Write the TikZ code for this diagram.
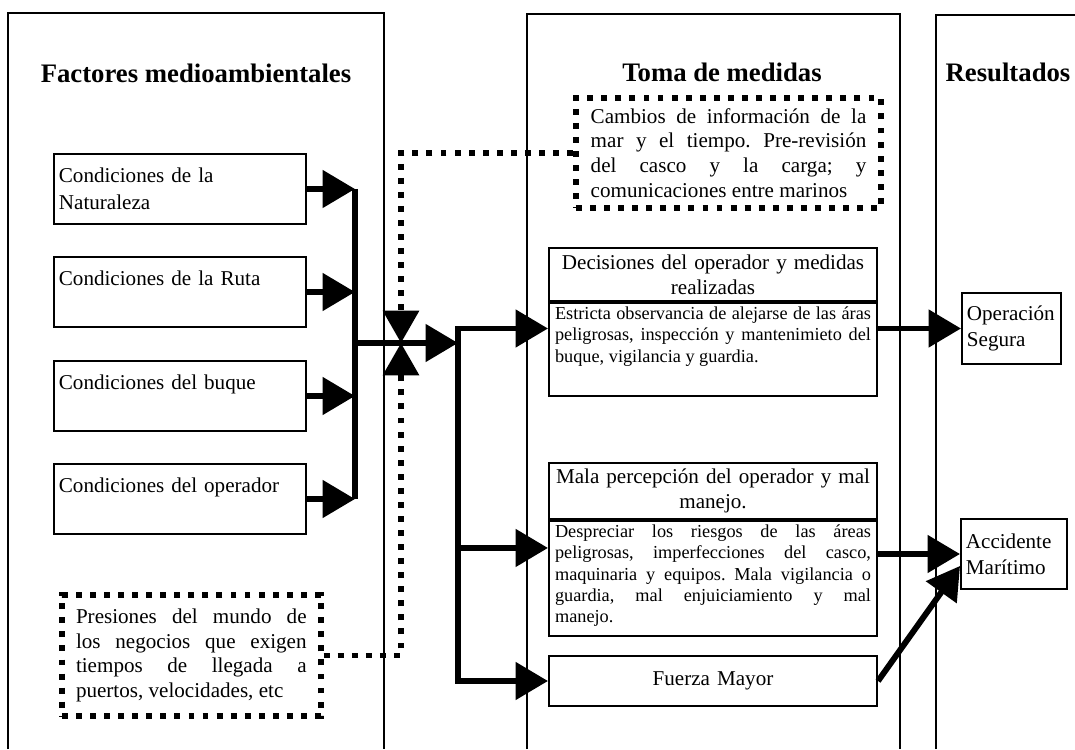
\documentclass[tikz,border=0pt]{standalone}
\usepackage{fontspec}
\setmainfont{Liberation Serif}
\usetikzlibrary{arrows.meta}
\hyphenpenalty=10000
\exhyphenpenalty=10000
\tolerance=10000
\frenchspacing

\newcommand{\bodypar}[2]{\parbox[c][#1][t]{224.7pt}{\fontsize{13}{15}\selectfont #2}}

\tikzset{
  panel/.style={line width=1.2pt},
  paneltitle/.style={font=\fontsize{19}{23}\selectfont\bfseries, anchor=base, inner sep=0pt},
  condbox/.style={draw, line width=1.4pt, fill=white, anchor=north west, inner xsep=3.5pt, inner ysep=0pt,
    text width=172pt, minimum height=1.75cm, align=left, font=\fontsize{15}{19}\selectfont},
  dotbox/.style={draw, line width=4.2pt, dash pattern=on 4.2pt off 5.8pt, anchor=north west, inner ysep=0pt,
    align=justify, font=\fontsize{15}{17.6}\selectfont},
  headbox/.style={draw, line width=1.4pt, anchor=north west, inner xsep=4.3pt, inner ysep=0pt,
    text width=224.7pt, align=center, font=\fontsize{15}{17.6}\selectfont},
  bodybox/.style={draw, line width=1.4pt, anchor=north west, inner xsep=4.3pt, inner ysep=3pt},
  endbox/.style={draw, line width=1.4pt, anchor=north west, inner xsep=3.5pt, inner ysep=0pt,
    align=left, font=\fontsize{15}{18.5}\selectfont},
  pipe/.style={line width=4.2pt},
  flow/.style={pipe, -{Triangle[length=23pt,width=26pt]}},
  dots/.style={line width=4.2pt, dash pattern=on 4.2pt off 5.8pt},
  dotflow/.style={dots, -{Triangle[length=23pt,width=25pt]}}
}

\begin{document}
\begin{tikzpicture}[x=0.025cm, y=-0.025cm]
		%%%%% START %%%%%
		\useasboundingbox (0,0) rectangle (1075,749);
		
		% columns
		\draw[panel] (8,749) -- (8,13) -- (384,13) -- (384,749);
		\draw[panel] (527,749) -- (527,14) -- (900,14) -- (900,749);
		\draw[panel] (936,749) -- (936,15) -- (1075,15);
		
		\node[paneltitle] (tfac) at (196,82) {Factores medioambientales};
		\node[paneltitle] (ttoma) at (722,81) {Toma de medidas};
		\node[paneltitle] (tres) at (1008,81) {Resultados};
		
		% factores
		\node[condbox] (nat) at (53,153) {Condiciones de la\\Naturaleza};
		\node[condbox] (ruta) at (53,256) {Condiciones de la Ruta\\ \mbox{}};
		\node[condbox] (buque) at (53,360) {Condiciones del buque\\ \mbox{}};
		\node[condbox] (oper) at (53,463) {Condiciones del operador\\ \mbox{}};
		
		\node[dotbox, text width=164pt, inner xsep=10pt, minimum height=3.025cm] (pres) at (59,592)
			{Presiones del mundo de\linebreak los negocios que exigen\linebreak tiempos de llegada a\linebreak puertos, velocidades, etc};
		
		% medidas
		\node[dotbox, text width=196pt, inner xsep=10.5pt, minimum height=2.75cm] (camb) at (573,95)
			{Cambios de información de la\linebreak mar y el tiempo. Pre-revisión\linebreak del casco y la carga; y\linebreak comunicaciones entre marinos};
		
		\node[headbox, minimum height=1.325cm] (dech) at (548,247) {Decisiones del operador y medidas\\realizadas};
		\node[bodybox] (decb) at (dech.south west) {\bodypar{60.15pt}{Estricta observancia de alejarse de las áras\linebreak peligrosas, inspección y mantenimieto del\linebreak buque, vigilancia y guardia.}};
		
		\node[headbox, minimum height=1.4cm] (malh) at (548,462) {Mala percepción del operador y mal\\manejo.};
		\node[bodybox] (malb) at (malh.south west) {\bodypar{75.8pt}{Despreciar los riesgos de las áreas\linebreak peligrosas, imperfecciones del casco,\linebreak maquinaria y equipos. Mala vigilancia o\linebreak guardia, mal enjuiciamiento y mal\linebreak manejo.}};
		
		\node[headbox, minimum height=1.25cm] (fza) at (548,655) {Fuerza Mayor};
		
		% resultados
		\node[endbox, text width=63.4pt, minimum height=1.775cm] (opseg) at (961,292) {Operación\\Segura};
		\node[endbox, text width=68.4pt, minimum height=1.75cm] (accm) at (960,518) {Accidente\\Marítimo};
		
		% connectors
		\coordinate (jl) at (355,343);
		\coordinate (hg) at (401,343);
		\coordinate (sp) at (458,343);
		\coordinate (malin) at ([yshift=21.7pt]malb.west);
		
		\foreach \n in {nat,ruta,buque,oper}
			\draw[flow] (\n.east) -- (\n.east -| jl);
		\draw[pipe] (nat.east -| jl) -- (oper.east -| jl);
		\draw[flow] (jl) -- (sp);
		
		\draw[dotflow] (camb.west) -| (hg);
		\draw[dotflow] (pres.east) -| (hg);
		
		\draw[flow] (sp) -- (sp |- opseg) -- (decb.west |- opseg);
		\draw[flow] (sp) -- (sp |- fza) -- (fza.west);
		\draw[flow] (sp |- malin) -- (malin);
		
		\draw[flow] (decb.east |- opseg) -- (opseg.west);
		\draw[flow] (malb.east |- accm) -- (accm.west);
		\draw[flow] (fza.east) -- ([yshift=-8.5pt]accm.west);
		
		%%%%% END %%%%%
\end{tikzpicture}
\end{document}
